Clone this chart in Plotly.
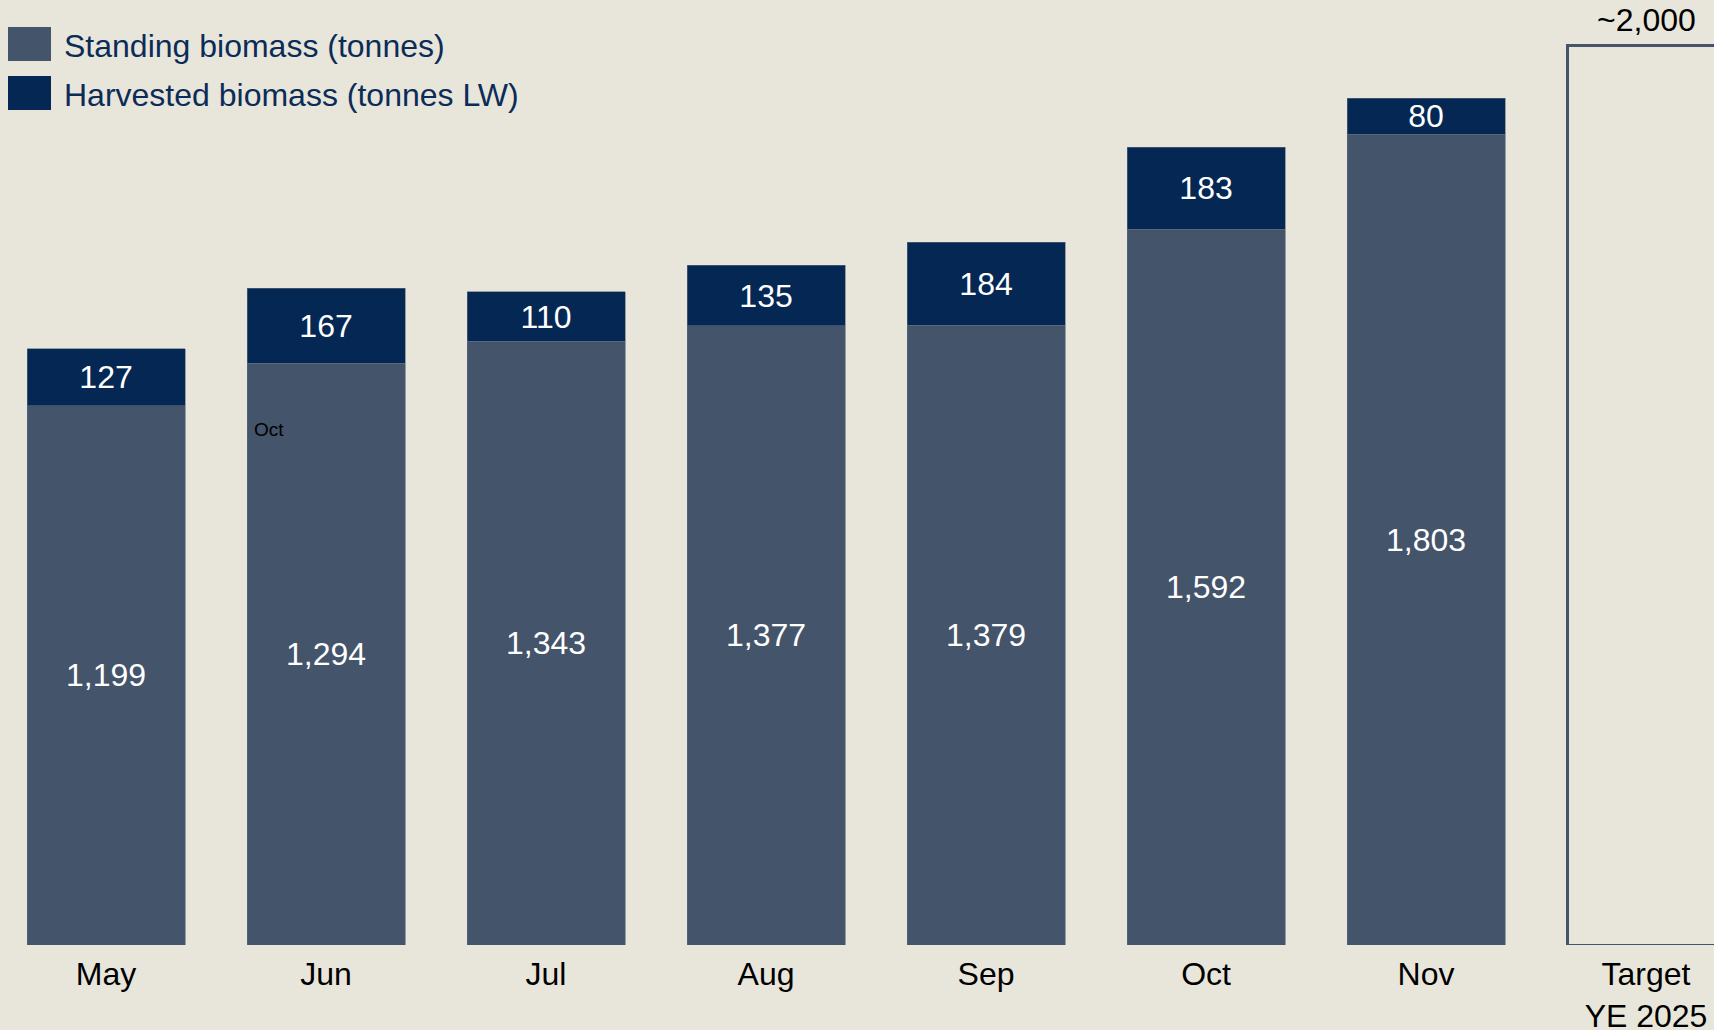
import plotly.graph_objects as go

months = ["May", "Jun", "Jul", "Aug", "Sep", "Oct", "Nov"]
standing = [1199, 1294, 1343, 1377, 1379, 1592, 1803]
harvested = [127, 167, 110, 135, 184, 183, 80]
target_category = ["Target<br>YE 2025"]
target_value = [2000]
target_label = ["~2,000"]

BG = "#E8E6DB"
STAND = "#44546A"
HARV = "#042853"
FONT = "Liberation Sans, Arial, sans-serif"
BARW = 0.718
FS = 32

fig = go.Figure()
fig.add_trace(go.Bar(
    x=months, y=standing, name="Standing biomass (tonnes)",
    marker=dict(color=STAND, line=dict(color="#5E6C80", width=0.6)),
    width=BARW,
    text=[f"{v:,}" for v in standing], textposition="inside",
    insidetextanchor="middle", textangle=0,
    textfont=dict(color="white", size=FS, family=FONT),
))
fig.add_trace(go.Bar(
    x=months, y=harvested, name="Harvested biomass (tonnes LW)",
    marker=dict(color=HARV, line=dict(color="#5E6C80", width=0.6)),
    width=BARW,
    text=[f"{v:,}" for v in harvested], textposition="inside",
    insidetextanchor="middle", textangle=0,
    textfont=dict(color="white", size=FS, family=FONT),
))
fig.add_trace(go.Bar(
    x=target_category, y=target_value, name="Target",
    marker=dict(color="rgba(0,0,0,0)", line=dict(color=STAND, width=3)),
    width=BARW, cliponaxis=False, showlegend=False,
))

# custom legend (large swatches)
legend_items = [("Standing biomass (tonnes)", STAND, 44), ("Harvested biomass (tonnes LW)", HARV, 93)]
shapes = []
annotations = []
for label, col, yc in legend_items:
    shapes.append(dict(type="rect", xref="paper", yref="paper",
                       x0=8 / 1714, x1=51 / 1714,
                       y0=1 - (yc + 17) / 945, y1=1 - (yc - 17) / 945,
                       fillcolor=col, line=dict(width=0)))
    annotations.append(dict(text=label, xref="paper", yref="paper",
                            x=62 / 1714, y=1 - (yc + 2) / 945, xanchor="left", yanchor="middle",
                            showarrow=False, font=dict(size=FS, color="#0C2C58", family=FONT)))

# target value label
annotations.append(dict(text=target_label[0], xref="x", yref="y",
                        x=target_category[0], y=target_value[0],
                        xanchor="center", yanchor="bottom", yshift=6, showarrow=False,
                        font=dict(size=FS, color="black", family=FONT)))

# stray small label
annotations.append(dict(text="Oct", xref="x", yref="y", x=0.665, y=1146,
                        xanchor="left", yanchor="middle", showarrow=False,
                        font=dict(size=19, color="black", family=FONT)))

fig.update_layout(
    width=1714, height=1030,
    barmode="stack",
    paper_bgcolor=BG, plot_bgcolor=BG,
    margin=dict(l=0, r=0, t=0, b=85, autoexpand=False),
    showlegend=False,
    shapes=shapes, annotations=annotations,
    font=dict(family=FONT, color="black"),
    uniformtext=dict(minsize=FS, mode="show"),
)
fig.update_xaxes(
    type="category",
    categoryorder="array", categoryarray=months + target_category,
    range=[-0.482, 7.309],
    showgrid=False, zeroline=False, showline=False, ticks="",
    tickfont=dict(size=FS, color="black", family=FONT),
    ticklabelstandoff=7, automargin=False,
)
fig.update_yaxes(range=[0, 2102], visible=False, showgrid=False, zeroline=False, automargin=False)

fig.write_html("out.html", config={"displayModeBar": False})

# remove default page margin so the figure sits at the window's corner
with open("out.html", "r", encoding="utf-8") as f:
    html = f.read()
html = html.replace("<head>", "<head><style>html,body{margin:0;padding:0;background:%s;overflow:hidden;}</style>" % BG, 1)
with open("out.html", "w", encoding="utf-8") as f:
    f.write(html)
